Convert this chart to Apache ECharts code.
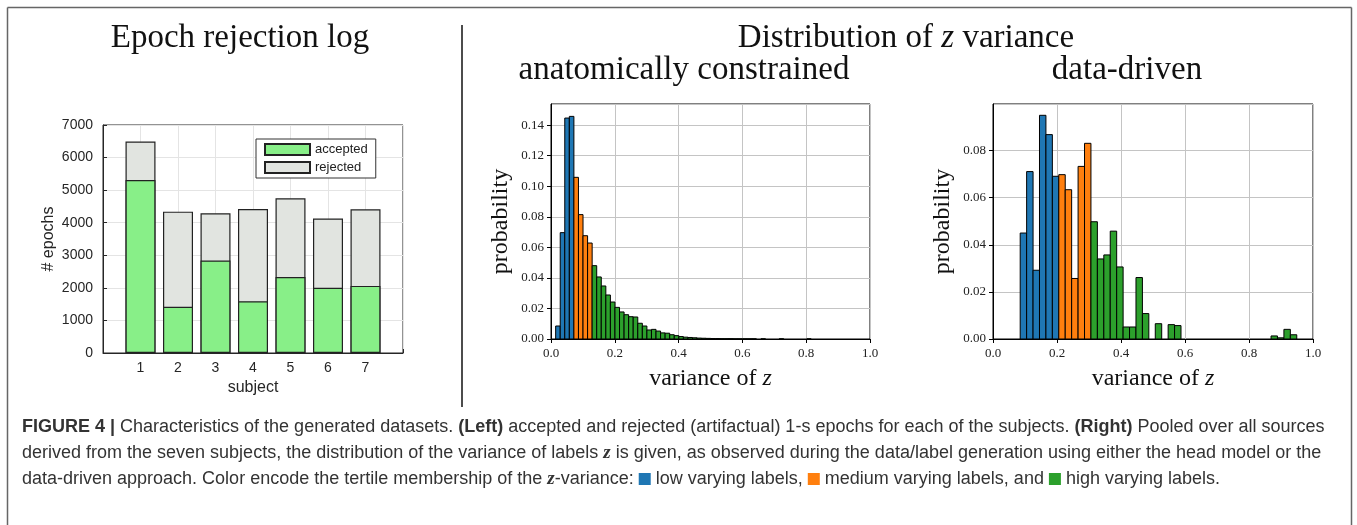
<!DOCTYPE html>
<html>
<head>
<meta charset="utf-8">
<script src="https://cdn.jsdelivr.net/npm/echarts@6/dist/echarts.min.js"></script>
<style>
  html, body { margin: 0; padding: 0; background: #fff; }
  #main { width: 1357px; height: 525px; }
</style>
</head>
<body>
<div id="main"></div>
<script>
// epoch rejection log
const subjects = [1, 2, 3, 4, 5, 6, 7];
const accepted = [5310, 1420, 2840, 1590, 2330, 2000, 2060];
const rejected = [1180, 2920, 1450, 2830, 2420, 2130, 2350];

// anatomically constrained histogram (bin edges: start + k * width)
const anatStart = 0.0146;
const anatBin = 0.0143;
const anatLow = [0.0085, 0.0696, 0.1446, 0.1457];
const anatMid = [0.1058, 0.0814, 0.0676, 0.0628];
const anatHigh = [0.0480, 0.0406, 0.0347, 0.0288, 0.0242, 0.0207, 0.0177, 0.0159, 0.0146, 0.0144,
  0.0103, 0.0085, 0.0059, 0.0063, 0.0052, 0.0040, 0.0038, 0.0028, 0.0022, 0.0016,
  0.0012, 0.0010, 0.0008, 0.0006, 0.0005, 0.0004, 0.0003, 0.0003, 0.0002, 0.0002,
  0.0002, 0.0001, 0.0001, 0.0001, 0.0001, 0.0001, 0, 0.0001, 0, 0, 0, 0.0001, 0, 0, 0, 0, 0, 0.0001];

// data-driven histogram
const ddStart = 0.085;
const ddBin = 0.0201;
const ddLow = [0.0450, 0.0711, 0.0292, 0.0950, 0.0868, 0.0691];
const ddMid = [0.0698, 0.0634, 0.0257, 0.0733, 0.0831];
const ddHigh = [0.0498, 0.0340, 0.0357, 0.0458, 0.0306, 0.0051, 0.0051, 0.0261, 0.0108, 0,
  0.0065, 0, 0.0061, 0.0057, 0, 0, 0, 0, 0, 0, 0, 0, 0, 0, 0, 0, 0, 0,
  0.0013, 0.0005, 0.0041, 0.0018];

const serif = 'Liberation Serif';
const sans = 'Liberation Sans';
const tab = { low: '#1f77b4', mid: '#ff7f0e', high: '#2ca02c' };

function bins(start, width, offset, values) {
  return values.map((v, i) => [start + (offset + i) * width, start + (offset + i + 1) * width, v]);
}

function histSeries(name, idx, color, data) {
  return {
    type: 'custom', name, xAxisIndex: idx, yAxisIndex: idx,
    encode: { x: [0, 1], y: 2 },
    data,
    silent: true,
    renderItem: (params, api) => {
      const top = api.value(2);
      if (!top) return null;
      const a = api.coord([api.value(0), top]);
      const b = api.coord([api.value(1), 0]);
      return {
        type: 'rect',
        shape: { x: a[0], y: a[1], width: b[0] - a[0], height: b[1] - a[1] },
        style: { fill: color, stroke: '#000', lineWidth: 1 }
      };
    }
  };
}

const nameStyle = {
  fontFamily: serif, fontSize: 24, color: '#111',
  rich: { i: { fontFamily: serif, fontSize: 24, fontStyle: 'italic', color: '#111' } }
};

function histX(idx) {
  return {
    type: 'value', gridIndex: idx, min: 0, max: 1, interval: 0.2,
    name: 'variance of {i|z}', nameLocation: 'middle', nameGap: 28, nameTextStyle: nameStyle,
    axisLine: { show: true, lineStyle: { color: '#000', width: 1 } },
    axisTick: { show: true, length: 4, lineStyle: { color: '#000' } },
    axisLabel: { fontFamily: serif, fontSize: 13, color: '#222', margin: 8, formatter: v => v.toFixed(1) },
    splitLine: { show: true, lineStyle: { color: '#c4c4c4', width: 1 } }
  };
}

function histY(idx, max) {
  return {
    type: 'value', gridIndex: idx, min: 0, max, interval: 0.02,
    name: 'probability', nameLocation: 'middle', nameGap: 38, nameRotate: 90, nameTextStyle: nameStyle,
    axisLine: { show: true, lineStyle: { color: '#000', width: 1 } },
    axisTick: { show: true, length: 4, lineStyle: { color: '#000' } },
    axisLabel: { fontFamily: serif, fontSize: 13, color: '#222', margin: 7, showMaxLabel: false,
      formatter: v => v.toFixed(2) },
    splitLine: { show: true, lineStyle: { color: '#c4c4c4', width: 1 } }
  };
}

function txt(x, y, text, size, extra) {
  return {
    type: 'text', x, y, silent: true,
    style: Object.assign({
      text, fontFamily: serif, fontSize: size, fill: '#111', align: 'center', verticalAlign: 'middle'
    }, extra || {})
  };
}

const capSize = 18;
const capRich = {
  b: { fontFamily: sans, fontSize: capSize, fontWeight: 'bold', fill: '#333' },
  z: { fontFamily: serif, fontSize: capSize + 1, fontStyle: 'italic', fontWeight: 'bold', fill: '#333' },
  s1: { backgroundColor: tab.low, width: 12, height: 12 },
  s2: { backgroundColor: tab.mid, width: 12, height: 12 },
  s3: { backgroundColor: tab.high, width: 12, height: 12 }
};
const capStyle = { fontFamily: sans, fontSize: capSize, fill: '#333', align: 'left', rich: capRich };

const barStyle = { borderColor: '#222', borderWidth: 1.2 };

const chart = echarts.init(document.getElementById('main'));

chart.setOption({
  animation: false,
  backgroundColor: '#fff',
  grid: [
    { left: 103, top: 125, width: 300, height: 228, show: true, borderColor: '#262626', borderWidth: 1, outerBoundsMode: 'none' },
    { left: 551, top: 104, width: 319, height: 235, show: true, borderColor: '#000', borderWidth: 1, outerBoundsMode: 'none' },
    { left: 993, top: 104, width: 320, height: 235, show: true, borderColor: '#000', borderWidth: 1, outerBoundsMode: 'none' }
  ],
  xAxis: [
    {
      type: 'value', gridIndex: 0, min: 0, max: 8, interval: 1,
      name: 'subject', nameLocation: 'middle', nameGap: 27,
      nameTextStyle: { fontFamily: sans, fontSize: 16, color: '#262626' },
      axisLine: { show: true, lineStyle: { color: '#262626' } },
      axisTick: { show: true, inside: true, length: 4, lineStyle: { color: '#262626' } },
      axisLabel: { fontFamily: sans, fontSize: 14, color: '#262626', margin: 8,
        formatter: v => (v >= 1 && v <= 7 ? String(v) : '') },
      splitLine: { show: true, lineStyle: { color: '#e4e4e4' } }
    },
    histX(1),
    histX(2)
  ],
  yAxis: [
    {
      type: 'value', gridIndex: 0, min: 0, max: 7000, interval: 1000,
      name: '# epochs', nameLocation: 'middle', nameGap: 46, nameRotate: 90,
      nameTextStyle: { fontFamily: sans, fontSize: 16, color: '#262626' },
      axisLine: { show: true, lineStyle: { color: '#262626' } },
      axisTick: { show: true, inside: true, length: 4, lineStyle: { color: '#262626' } },
      axisLabel: { fontFamily: sans, fontSize: 14, color: '#262626', margin: 10, formatter: v => String(v) },
      splitLine: { show: true, lineStyle: { color: '#e4e4e4' } }
    },
    histY(1, 0.1538),
    histY(2, 0.0998)
  ],
  legend: {
    data: ['accepted', 'rejected'], orient: 'vertical', left: 256, top: 139,
    icon: 'rect', itemWidth: 45, itemHeight: 11, itemGap: 5, padding: [4, 8, 4, 8],
    borderColor: '#333', borderWidth: 1, backgroundColor: '#fff',
    textStyle: { fontFamily: sans, fontSize: 13, color: '#222' },
    selectedMode: false
  },
  series: [
    // rejected epochs sit on top of the accepted ones: drawn to the total, behind the accepted bar
    {
      type: 'bar', name: 'rejected', xAxisIndex: 0, yAxisIndex: 0, barWidth: 30, barGap: '-100%',
      data: subjects.map((s, i) => [s, accepted[i] + rejected[i]]),
      itemStyle: Object.assign({ color: '#e1e4e0' }, barStyle)
    },
    {
      type: 'bar', name: 'accepted', xAxisIndex: 0, yAxisIndex: 0, barWidth: 30, barGap: '-100%',
      data: subjects.map((s, i) => [s, accepted[i]]),
      itemStyle: Object.assign({ color: '#88ef88' }, barStyle)
    },
    histSeries('anat low', 1, tab.low, bins(anatStart, anatBin, 0, anatLow)),
    histSeries('anat mid', 1, tab.mid, bins(anatStart, anatBin, anatLow.length, anatMid)),
    histSeries('anat high', 1, tab.high, bins(anatStart, anatBin, anatLow.length + anatMid.length, anatHigh)),
    histSeries('dd low', 2, tab.low, bins(ddStart, ddBin, 0, ddLow)),
    histSeries('dd mid', 2, tab.mid, bins(ddStart, ddBin, ddLow.length, ddMid)),
    histSeries('dd high', 2, tab.high, bins(ddStart, ddBin, ddLow.length + ddMid.length, ddHigh))
  ],
  graphic: [
    { type: 'line', silent: true, shape: { x1: 7.5, y1: 7.5, x2: 1351.5, y2: 7.5 }, style: { stroke: '#666', lineWidth: 1.5 } },
    { type: 'line', silent: true, shape: { x1: 7.5, y1: 7.5, x2: 7.5, y2: 525 }, style: { stroke: '#666', lineWidth: 1.5 } },
    { type: 'line', silent: true, shape: { x1: 1351.5, y1: 7.5, x2: 1351.5, y2: 525 }, style: { stroke: '#666', lineWidth: 1.5 } },
    { type: 'line', silent: true, shape: { x1: 462, y1: 25, x2: 462, y2: 407 }, style: { stroke: '#111', lineWidth: 1.5 } },
    txt(240, 38, 'Epoch rejection log', 33),
    txt(906, 38, 'Distribution of {i|z} variance', 33,
      { rich: { i: { fontFamily: serif, fontSize: 33, fontStyle: 'italic', fill: '#111' } } }),
    txt(684, 70, 'anatomically constrained', 33),
    txt(1127, 70, 'data-driven', 33),
    txt(22, 427, '{b|FIGURE 4 |} Characteristics of the generated datasets. {b|(Left)} accepted and rejected (artifactual) 1-s epochs for each of the subjects. {b|(Right)} Pooled over all sources', capSize, capStyle),
    txt(22, 453, 'derived from the seven subjects, the distribution of the variance of labels {z|z} is given, as observed during the data/label generation using either the head model or the', capSize, capStyle),
    txt(22, 479, 'data-driven approach. Color encode the tertile membership of the {z|z}-variance: {s1| } low varying labels, {s2| } medium varying labels, and {s3| } high varying labels.', capSize, capStyle)
  ]
});
</script>
</body>
</html>
